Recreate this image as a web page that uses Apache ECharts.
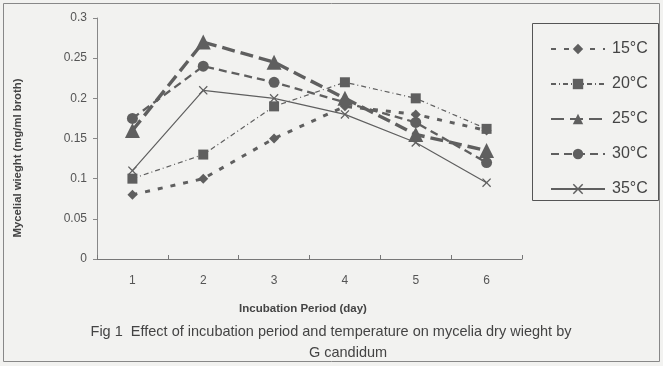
<!DOCTYPE html>
<html>
<head>
<meta charset="utf-8">
<script src="https://cdn.jsdelivr.net/npm/echarts@6/dist/echarts.min.js"></script>
<style>
html,body{margin:0;padding:0;background:#f2f2f0;}
#c{width:663px;height:366px;}
</style>
</head>
<body>
<div id="c"></div>
<script>
const days = ['1', '2', '3', '4', '5', '6'];
const seriesNames = ['15°C', '20°C', '25°C', '30°C', '35°C'];
const t15 = [0.08, 0.10, 0.15, 0.19, 0.18, 0.16];
const t20 = [0.10, 0.13, 0.19, 0.22, 0.20, 0.162];
const t25 = [0.16, 0.27, 0.245, 0.20, 0.155, 0.135];
const t30 = [0.175, 0.24, 0.22, 0.195, 0.17, 0.12];
const t35 = [0.11, 0.21, 0.20, 0.18, 0.145, 0.095];
const yTicks = [0, 0.05, 0.1, 0.15, 0.2, 0.25, 0.3];

const xPath = 'path://M0,1L1,0L5,4L9,0L10,1L6,5L10,9L9,10L5,6L1,10L0,9L4,5Z';
const lineCol = '#5f5f5f';
const font = 'Liberation Sans, Arial, sans-serif';

const styles = [
  {data: t15, symbol: 'diamond', size: 10, width: 3, type: [5, 8]},
  {data: t20, symbol: 'rect', size: 10, width: 1.2, type: [5, 3, 1, 3]},
  {data: t25, symbol: 'triangle', size: 15, width: 3.4, type: [13, 6]},
  {data: t30, symbol: 'circle', size: 11, width: 2.3, type: [8, 5]},
  {data: t35, symbol: xPath, size: 9, width: 1.2, type: 'solid'}
];

const chart = echarts.init(document.getElementById('c'), null, {renderer: 'canvas'});
chart.setOption({
  backgroundColor: '#f2f2f0',
  animation: false,
  textStyle: {fontFamily: font},
  grid: {left: 97, right: 141, top: 18, bottom: 107, containLabel: false},
  xAxis: {
    type: 'category',
    data: days,
    boundaryGap: true,
    axisLine: {lineStyle: {color: '#777', width: 1}},
    axisTick: {show: true, inside: true, length: 4, lineStyle: {color: '#777'}},
    axisLabel: {color: '#555', fontSize: 12, margin: 16}
  },
  yAxis: {
    type: 'value',
    min: 0,
    max: 0.3,
    interval: 0.05,
    axisLine: {show: true, lineStyle: {color: '#888', width: 1}},
    axisTick: {show: true, length: 4, lineStyle: {color: '#888'}},
    splitLine: {show: false},
    axisLabel: {
      color: '#555', fontSize: 12, margin: 10,
      formatter: function (v) {
        const i = yTicks.findIndex(t => Math.abs(t - v) < 1e-9);
        return i >= 0 ? String(yTicks[i]) : '';
      }
    }
  },
  legend: {
    orient: 'vertical',
    left: 545,
    top: 36,
    itemWidth: 54,
    itemHeight: 13,
    itemGap: 19,
    textStyle: {color: '#444', fontSize: 16, padding: [0, 0, 0, 2]},
    data: seriesNames
  },
  graphic: [
    {type: 'rect', shape: {x: 532.5, y: 23.5, width: 126, height: 177}, style: {fill: 'none', stroke: '#555', lineWidth: 1}, z: 0},
    {type: 'rect', shape: {x: 3.5, y: 3.5, width: 656, height: 358}, style: {fill: 'none', stroke: '#888', lineWidth: 1}, z: 0},
    {type: 'text', x: 18, y: 158, rotation: Math.PI / 2,
      style: {text: 'Mycelial wieght (mg/ml broth)', fill: '#444', fontSize: 11.3, fontWeight: 'bold', fontFamily: font, align: 'center', verticalAlign: 'middle'}},
    {type: 'text', x: 303, y: 309,
      style: {text: 'Incubation Period (day)', fill: '#444', fontSize: 11.5, fontWeight: 'bold', fontFamily: font, align: 'center', verticalAlign: 'middle'}},
    {type: 'text', x: 331, y: 332,
      style: {text: 'Fig 1  Effect of incubation period and temperature on mycelia dry wieght by', fill: '#444', fontSize: 14.5, fontFamily: font, align: 'center', verticalAlign: 'middle'}},
    {type: 'text', x: 348, y: 353,
      style: {text: 'G candidum', fill: '#444', fontSize: 14.5, fontFamily: font, align: 'center', verticalAlign: 'middle'}}
  ],
  series: styles.map((s, i) => ({
    name: seriesNames[i],
    type: 'line',
    data: s.data,
    symbol: s.symbol,
    symbolSize: s.size,
    showSymbol: true,
    itemStyle: {color: lineCol, borderWidth: 0},
    lineStyle: {color: lineCol, width: s.width, type: s.type},
    emphasis: {disabled: true}
  }))
});
</script>
</body>
</html>
